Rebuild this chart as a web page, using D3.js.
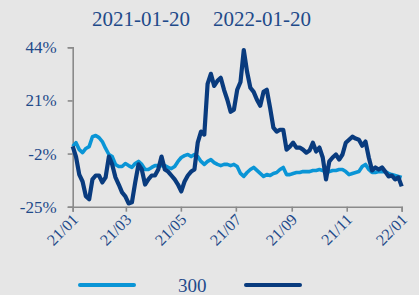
<!DOCTYPE html>
<html><head><meta charset="utf-8">
<script src="https://cdn.jsdelivr.net/npm/d3@7"></script>
<style>
html,body{margin:0;padding:0;background:#e6e6e6;}
svg{display:block;}
text{font-family:"Liberation Serif","Times New Roman",serif;fill:#1f4a8a;}
</style></head>
<body>
<svg id="c" width="419" height="295"></svg>
<script>
const titleDates = ["2021-01-20", "2022-01-20"];
const startDate = "2021-01-20";
const endDate = "2022-01-20";
const tickDates = ["2021-01-20","2021-03-20","2021-05-20","2021-07-20","2021-09-20","2021-11-20","2022-01-20"];
const yTicks = [-25, -2, 21, 44];
const seriesNames = ["300", ""];
// CSI 300 (light)
const lightValues = [1.1,2.7,-0.3,-1.6,0.2,1.0,5.3,5.8,4.9,3.2,0.2,-2.4,-3.3,-6.7,-7.6,-7.6,-6.3,-7.2,-8.0,-6.3,
-5.4,-6.7,-8.9,-8.9,-8.0,-7.2,-7.2,-7.2,-7.2,-8.0,-8.5,-7.6,-5.4,-3.7,-2.9,-2.4,-3.3,-2.4,-3.3,-5.4,
-6.7,-5.4,-4.6,-5.9,-6.7,-7.2,-6.7,-6.7,-7.2,-6.7,-7.6,-10.6,-11.9,-10.2,-8.9,-8.0,-9.3,-10.6,-11.9,-11.1,
-11.5,-10.6,-10.2,-8.9,-8.0,-11.1,-11.1,-10.6,-10.2,-10.2,-9.8,-9.8,-9.8,-9.3,-9.3,-8.9,-9.3,-9.8,-9.8,-9.3,
-9.3,-8.9,-8.9,-9.8,-11.1,-10.6,-10.2,-9.8,-7.6,-6.7,-8.9,-10.2,-10.2,-9.8,-9.8,-9.8,-10.6,-11.1,-11.5,-11.9,-12.3];
// fund (dark)
const darkValues = [1.1,-3.3,-11.1,-14.1,-20.5,-21.8,-13.2,-11.5,-11.5,-14.5,-12.3,-3.3,-6.7,-12.3,-15.4,-18.8,-20.5,-23.6,-23.1,-14.5,
-6.7,-8.9,-15.4,-13.2,-11.5,-11.5,-8.9,-3.3,-8.9,-9.8,-11.5,-13.2,-15.4,-18.4,-14.1,-11.5,-9.8,-8.9,2.7,7.5,
6.2,28.2,32.5,27.3,29.5,30.8,25.6,21.3,16.1,17.0,25.6,29.0,42.8,33.4,26.5,24.7,21.3,18.7,24.7,25.6,
17.8,9.2,7.5,8.3,8.3,-0.3,1.0,2.7,0.6,0.6,-0.3,-1.6,-0.7,2.7,-1.1,0.6,-3.7,-13.2,-5.4,-3.7,
-2.4,-4.6,-2.4,2.7,4.0,5.3,4.5,4.0,1.4,3.2,-3.7,-9.3,-8.0,-8.9,-8.0,-9.8,-11.9,-11.5,-13.2,-12.3,-16.2];

const lightColor = "#0a95d6";
const darkColor = "#093b7e";
const axisColor = "#8a8a8a";

const svg = d3.select("#c");
const parse = d3.timeParse("%Y-%m-%d");
const t0 = parse(startDate), t1 = parse(endDate);
const x = d3.scaleTime().domain([t0, t1]).range([72.7, 401.7]);
const y = d3.scaleLinear().domain([-25, 44]).range([206.7, 47.3]);

const n = lightValues.length;
const dateAt = i => new Date(+t0 + (t1 - t0) * i / (n - 1));

// title
svg.append("text").attr("x", 92).attr("y", 26).attr("font-size", 21).text(titleDates[0]);
svg.append("text").attr("x", 213).attr("y", 26).attr("font-size", 21).text(titleDates[1]);

// axes
const yAxis = svg.append("g").attr("transform", "translate(72.7,0)")
  .call(d3.axisLeft(y).tickValues(yTicks).tickSize(5).tickPadding(11).tickFormat(d => d + "%"));
const xAxis = svg.append("g").attr("transform", "translate(0,206.7)")
  .call(d3.axisBottom(x).tickValues(tickDates.map(parse)).tickSize(5).tickFormat(d3.timeFormat("%y/%m")));
[yAxis, xAxis].forEach(g => {
  g.select(".domain").attr("stroke", axisColor).attr("stroke-width", 1.6);
  g.selectAll(".tick line").attr("stroke", axisColor).attr("stroke-width", 1.6);
});
yAxis.selectAll("text").attr("font-size", 17).attr("font-family", "Liberation Serif").attr("fill", "#1f4a8a");
xAxis.selectAll("text").attr("font-size", 16).attr("font-family", "Liberation Serif").attr("fill", "#1f4a8a")
  .attr("text-anchor", "end").attr("dy", null).attr("y", 0)
  .attr("transform", "translate(6,14) rotate(-45)");

// lines
const line = d3.line().x((d, i) => x(dateAt(i))).y(d => y(d));
svg.append("path").datum(lightValues).attr("d", line).attr("fill", "none")
  .attr("stroke", lightColor).attr("stroke-width", 3.6).attr("stroke-linejoin", "round");
svg.append("path").datum(darkValues).attr("d", line).attr("fill", "none")
  .attr("stroke", darkColor).attr("stroke-width", 4.2).attr("stroke-linejoin", "round");

// legend
const lg = svg.append("g");
lg.append("line").attr("x1", 80).attr("x2", 134).attr("y1", 285).attr("y2", 285)
  .attr("stroke", lightColor).attr("stroke-width", 4).attr("stroke-linecap", "round");
lg.append("text").attr("x", 178).attr("y", 292).attr("font-size", 19).text(seriesNames[0]);
lg.append("line").attr("x1", 246).attr("x2", 300).attr("y1", 285).attr("y2", 285)
  .attr("stroke", darkColor).attr("stroke-width", 4).attr("stroke-linecap", "round");
lg.append("text").attr("x", 344).attr("y", 292).attr("font-size", 19).text(seriesNames[1]);
</script>
</body></html>
